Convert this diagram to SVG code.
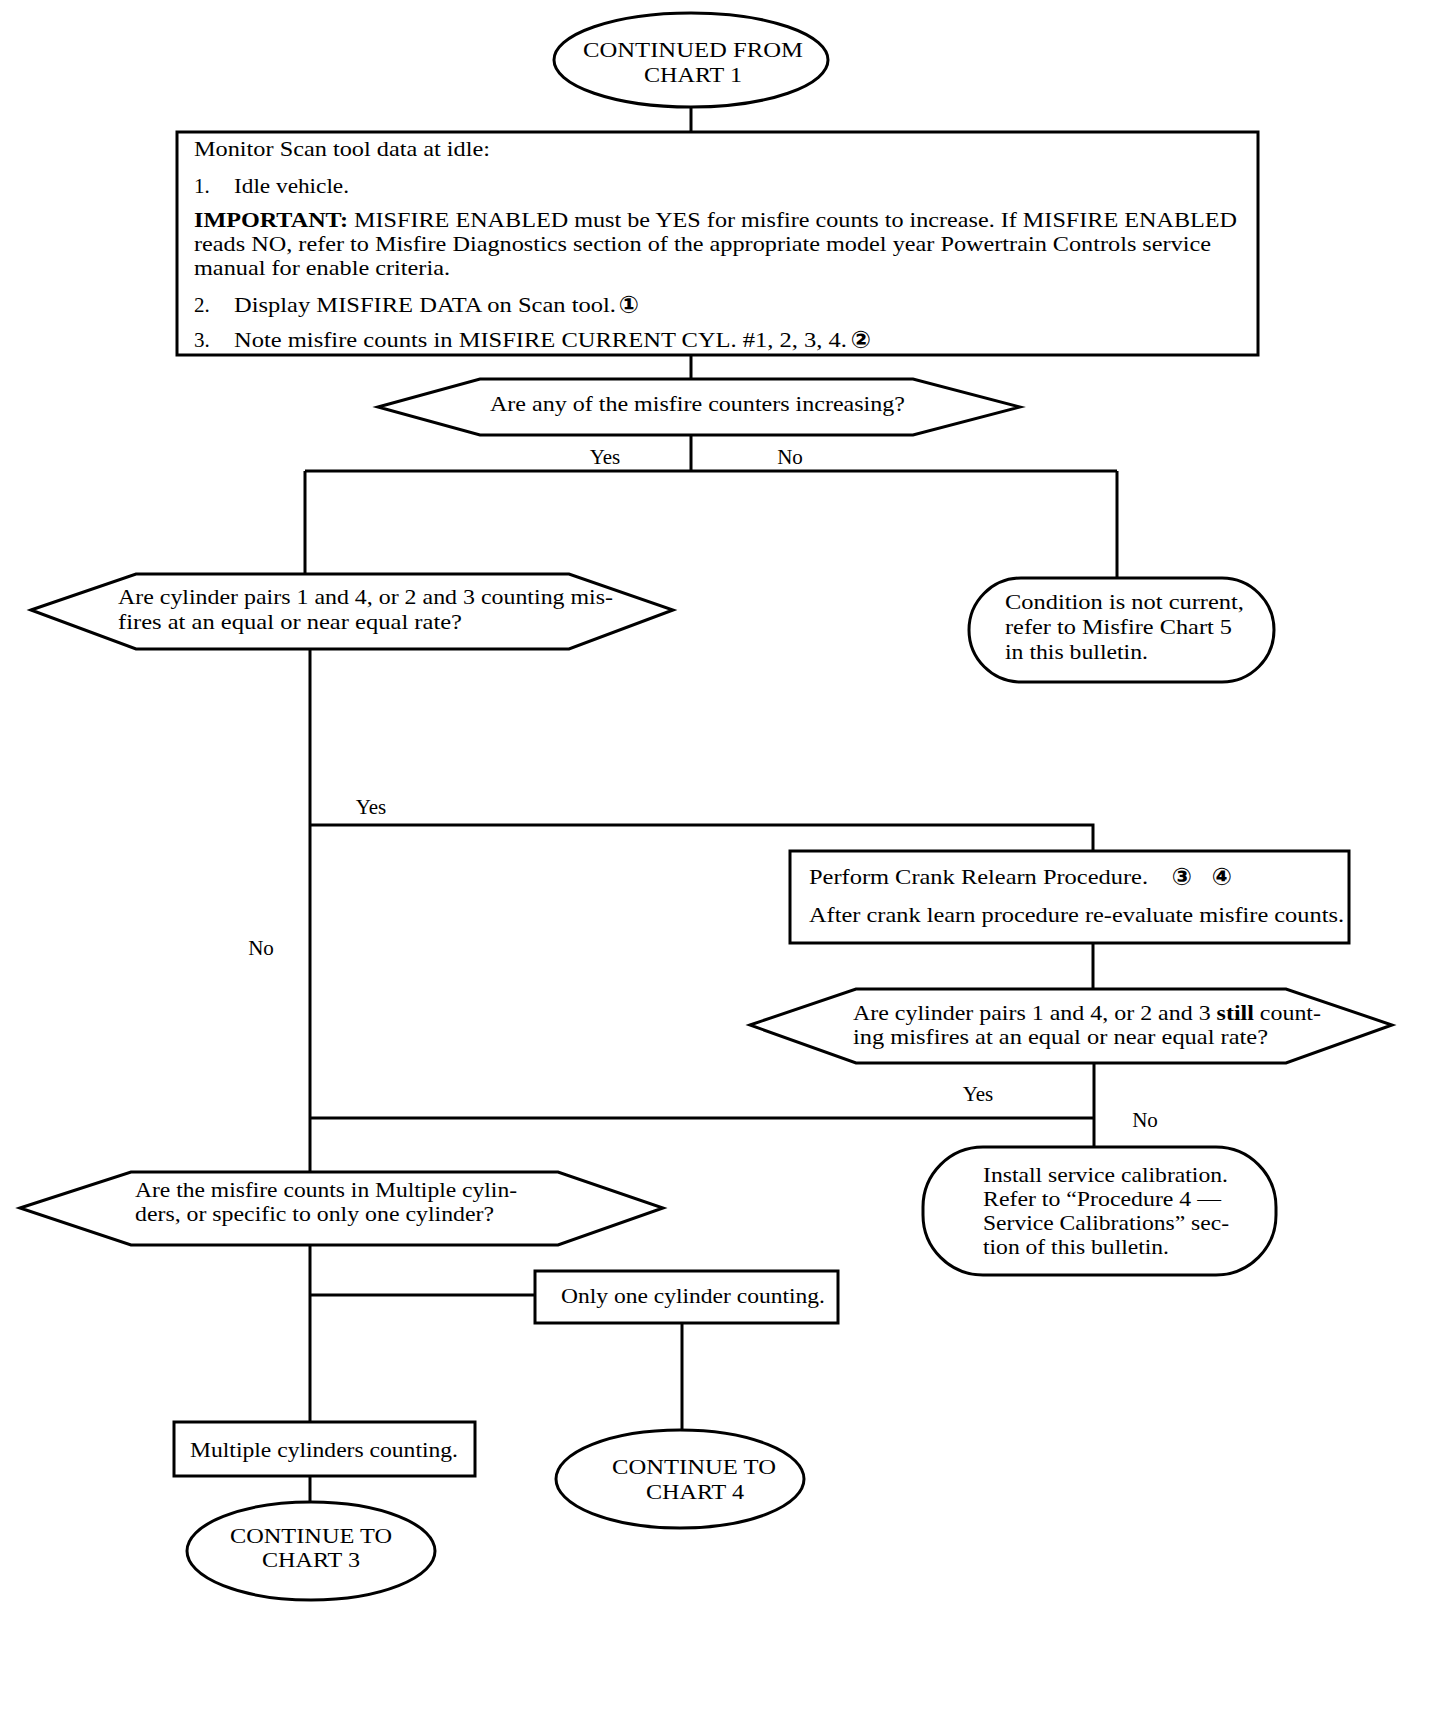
<svg xmlns="http://www.w3.org/2000/svg" width="1456" height="1710" viewBox="0 0 1456 1710">
<style>
.ln{stroke:#000;stroke-width:3;fill:none}
.sh{fill:#fff;stroke:#000;stroke-width:3}
text{font-family:"Liberation Serif","Times New Roman",serif;font-size:21px;fill:#000}
.c{text-anchor:middle}
.b{font-weight:bold}
.n{font-family:"DejaVu Sans",sans-serif;font-weight:bold;font-size:24px}
</style>
<rect width="1456" height="1710" fill="#fff"/>
<g id="connectors">
<path class="ln" d="M691 107V132"/>
<path class="ln" d="M691 355V379"/>
<path class="ln" d="M691 435V471M305 471H1117M305 471V574M1117 471V578"/>
<path class="ln" d="M310 649V1172"/>
<path class="ln" d="M310 825H1093V851"/>
<path class="ln" d="M1093 943V989"/>
<path class="ln" d="M1094 1063V1147M310 1118H1094"/>
<path class="ln" d="M310 1245V1422M310 1295H535"/>
<path class="ln" d="M682 1323V1430"/>
<path class="ln" d="M310 1476V1502"/>
<text x="605" y="464" class="c">Yes</text>
<text x="790" y="464" class="c">No</text>
<text x="371" y="814" class="c">Yes</text>
<text x="261" y="955" class="c">No</text>
<text x="978" y="1101" class="c">Yes</text>
<text x="1145" y="1127" class="c">No</text>
</g>
<g id="start">
<ellipse class="sh" cx="691" cy="60" rx="137" ry="47"/>
<text x="693" y="57" class="c" textLength="220" lengthAdjust="spacingAndGlyphs">CONTINUED FROM</text>
<text x="693" y="82" class="c" textLength="98" lengthAdjust="spacingAndGlyphs">CHART 1</text>
</g>
<g id="monitor">
<rect class="sh" x="177" y="132" width="1081" height="223"/>
<text x="194" y="156" textLength="296" lengthAdjust="spacingAndGlyphs">Monitor Scan tool data at idle:</text>
<text x="194" y="193">1.</text>
<text x="234" y="193" textLength="115" lengthAdjust="spacingAndGlyphs">Idle vehicle.</text>
<text x="194" y="227" textLength="1043" lengthAdjust="spacingAndGlyphs"><tspan class="b">IMPORTANT:</tspan> MISFIRE ENABLED must be YES for misfire counts to increase. If MISFIRE ENABLED</text>
<text x="194" y="251" textLength="1017" lengthAdjust="spacingAndGlyphs">reads NO, refer to Misfire Diagnostics section of the appropriate model year Powertrain Controls service</text>
<text x="194" y="275" textLength="256" lengthAdjust="spacingAndGlyphs">manual for enable criteria.</text>
<text x="194" y="312">2.</text>
<text x="234" y="312" textLength="382" lengthAdjust="spacingAndGlyphs">Display MISFIRE DATA on Scan tool.</text>
<text x="629" y="313" class="n c">①</text>
<text x="194" y="347">3.</text>
<text x="234" y="347" textLength="613" lengthAdjust="spacingAndGlyphs">Note misfire counts in MISFIRE CURRENT CYL. #1, 2, 3, 4.</text>
<text x="861" y="348" class="n c">②</text>
</g>
<g id="q1">
<polygon class="sh" points="378,407 480,379 913,379 1020,407 913,435 480,435"/>
<text x="490" y="411" textLength="415" lengthAdjust="spacingAndGlyphs">Are any of the misfire counters increasing?</text>
</g>
<g id="q2">
<polygon class="sh" points="31,610 136,574 569,574 673,610 569,649 136,649"/>
<text x="118" y="604" textLength="495" lengthAdjust="spacingAndGlyphs">Are cylinder pairs 1 and 4, or 2 and 3 counting mis-</text>
<text x="118" y="629" textLength="344" lengthAdjust="spacingAndGlyphs">fires at an equal or near equal rate?</text>
</g>
<g id="notcurrent">
<rect class="sh" x="969" y="578" width="305" height="104" rx="52" ry="52"/>
<text x="1005" y="609" textLength="239" lengthAdjust="spacingAndGlyphs">Condition is not current,</text>
<text x="1005" y="634" textLength="227" lengthAdjust="spacingAndGlyphs">refer to Misfire Chart 5</text>
<text x="1005" y="659" textLength="143" lengthAdjust="spacingAndGlyphs">in this bulletin.</text>
</g>
<g id="relearn">
<rect class="sh" x="790" y="851" width="559" height="92"/>
<text x="809" y="884" textLength="339" lengthAdjust="spacingAndGlyphs">Perform Crank Relearn Procedure.</text>
<text x="1182" y="885" class="n c">③</text>
<text x="1222" y="885" class="n c">④</text>
<text x="809" y="922" textLength="535" lengthAdjust="spacingAndGlyphs">After crank learn procedure re-evaluate misfire counts.</text>
</g>
<g id="q3">
<polygon class="sh" points="750,1025 856,989 1286,989 1392,1025 1286,1063 856,1063"/>
<text x="853" y="1020" textLength="468" lengthAdjust="spacingAndGlyphs">Are cylinder pairs 1 and 4, or 2 and 3 <tspan class="b">still</tspan> count-</text>
<text x="853" y="1044" textLength="415" lengthAdjust="spacingAndGlyphs">ing misfires at an equal or near equal rate?</text>
</g>
<g id="calibration">
<rect class="sh" x="923" y="1147" width="353" height="128" rx="60" ry="60"/>
<text x="983" y="1182" textLength="245" lengthAdjust="spacingAndGlyphs">Install service calibration.</text>
<text x="983" y="1206" textLength="238" lengthAdjust="spacingAndGlyphs">Refer to “Procedure 4 —</text>
<text x="983" y="1230" textLength="246" lengthAdjust="spacingAndGlyphs">Service Calibrations” sec-</text>
<text x="983" y="1254" textLength="186" lengthAdjust="spacingAndGlyphs">tion of this bulletin.</text>
</g>
<g id="q4">
<polygon class="sh" points="20,1208 131,1172 558,1172 663,1208 558,1245 131,1245"/>
<text x="135" y="1197" textLength="382" lengthAdjust="spacingAndGlyphs">Are the misfire counts in Multiple cylin-</text>
<text x="135" y="1221" textLength="359" lengthAdjust="spacingAndGlyphs">ders, or specific to only one cylinder?</text>
</g>
<g id="onecyl">
<rect class="sh" x="535" y="1271" width="303" height="52"/>
<text x="561" y="1303" textLength="264" lengthAdjust="spacingAndGlyphs">Only one cylinder counting.</text>
</g>
<g id="chart4">
<ellipse class="sh" cx="680" cy="1479" rx="124" ry="49"/>
<text x="694" y="1474" class="c" textLength="164" lengthAdjust="spacingAndGlyphs">CONTINUE TO</text>
<text x="695" y="1499" class="c" textLength="98" lengthAdjust="spacingAndGlyphs">CHART 4</text>
</g>
<g id="multicyl">
<rect class="sh" x="174" y="1422" width="301" height="54"/>
<text x="190" y="1457" textLength="268" lengthAdjust="spacingAndGlyphs">Multiple cylinders counting.</text>
</g>
<g id="chart3">
<ellipse class="sh" cx="311" cy="1551" rx="124" ry="49"/>
<text x="311" y="1543" class="c" textLength="162" lengthAdjust="spacingAndGlyphs">CONTINUE TO</text>
<text x="311" y="1567" class="c" textLength="98" lengthAdjust="spacingAndGlyphs">CHART 3</text>
</g>
</svg>
